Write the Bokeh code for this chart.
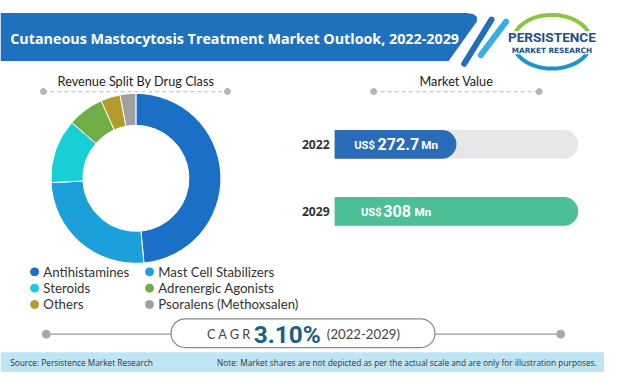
import numpy as np
from bokeh.plotting import figure
from bokeh.models import Range1d
from bokeh.core.properties import value
from bokeh.embed import file_html
from bokeh.resources import INLINE

# ---------------- data ----------------
title = "Cutaneous Mastocytosis Treatment Market Outlook, 2022-2029"
donut_title = "Revenue Split By Drug Class"
bars_title = "Market Value"
drug_classes = ["Antihistamines", "Mast Cell Stabilizers", "Steroids",
                "Adrenergic Agonists", "Others", "Psoralens (Methoxsalen)"]
shares = [48.5, 25.7, 12.2, 6.9, 3.7, 3.0]
class_colors = ["#1b6fc6", "#1ba0dc", "#18cfd7", "#6fae44", "#b39b2b", "#a0a0a0"]
years = ["2022", "2029"]
market_values = [272.7, 308.0]
value_labels = ["272.7", "308"]
bar_colors = ["#2a6cb8", "#4bbf95"]
cagr_label = "C A G R"
cagr_value = "3.10%"
cagr_period = "(2022-2029)"
source_text = "Source: Persistence Market Research"
note_text = "Note: Market shares are not depicted as per the actual scale and are only for illustration purposes."

# ---------------- layout ----------------
W, H = 604, 372
RW, RH = 620, 388
S = W / RW


def fs(px):
    return value(f"{px * S:.1f}px")


p = figure(width=W, height=H, x_range=Range1d(0, RW), y_range=Range1d(RH, 0),
           output_backend="svg", toolbar_location=None, min_border=0,
           x_axis_type=None, y_axis_type=None)
p.grid.visible = False
p.outline_line_color = None
p.background_fill_color = "white"
p.border_fill_color = "white"


def txt(x, y, t, size, color="#222222", bold=False, align="left",
        baseline="middle", font="Lato"):
    p.text(x=[x], y=[y], text=[t], text_font=value(font), text_font_size=fs(size),
           text_color=color, text_font_style="bold" if bold else "normal",
           text_align=align, text_baseline=baseline)


# title band
band_x = [0, 478, 485, 489, 489, 460, 0]
band_y = [13, 13, 14, 17, 22, 63, 63]
p.patch(band_x, band_y, fill_color="#1f70bd", line_color=None)
txt(10, 40, title, 14.7, color="white", bold=True, font="Open Sans")
# slashes
p.line([504, 476], [20, 66], line_color="#1f6fbf", line_width=6, line_cap="round")
p.line([519, 493], [22, 57], line_color="#38aee3", line_width=6, line_cap="round")

# logo
t = np.linspace(np.radians(200), np.radians(-15), 60)
p.line(566 + 40 * np.cos(t), 43 - 28 * np.sin(t), line_color="#8cc63f", line_width=4)
t2 = np.linspace(np.radians(195), np.radians(345), 60)
p.line(566 + 40 * np.cos(t2), 43 - 28 * np.sin(t2), line_color="#1d93cf", line_width=4)
p.rect(x=[566], y=[44], width=94, height=24, fill_color="white", line_color=None)
txt(566, 38, "PERSISTENCE", 14, color="#1c4f8c", bold=True, align="center",
    font="Roboto")
txt(566, 52, "MARKET RESEARCH", 7.5, color="#1c4f8c", bold=True, align="center",
    font="DejaVu Sans")

# section headers
for cx, x0, x1, lbl in [(139, 44, 233, donut_title), (468, 383, 553, bars_title)]:
    txt(cx, 84, lbl, 13, color="#222222", align="center")
    p.line([x0, x1], [95, 95], line_color="#c8c8c8", line_width=1.2, line_dash="4 3")
    p.scatter([x0, x1], [95, 95], size=6, color="#b5b5b5")

# donut
cum = np.cumsum([0] + shares)
tot = cum[-1]
starts = np.pi / 2 - 2 * np.pi * cum[:-1] / tot
ends = np.pi / 2 - 2 * np.pi * cum[1:] / tot
p.annular_wedge(x=139, y=185.5, inner_radius=53, outer_radius=85,
                inner_radius_units="screen", outer_radius_units="screen",
                start_angle=starts, end_angle=ends, direction="clock",
                fill_color=class_colors, line_color="white", line_width=1)

# legend
for i, (name, col) in enumerate(zip(drug_classes, class_colors)):
    r, c = divmod(i, 2)
    ly = 283 + 17 * r
    dx = [35, 153][c]
    p.scatter([dx], [ly], size=8, color=col)
    txt(dx + 9, ly, name, 13.5, color="#333333")

# market value bars
BAR_X0, BAR_X1 = 343, 593
VALUE_START = 237.4
vmax = max(market_values)
span = (vmax - VALUE_START) / (BAR_X1 - BAR_X0)
p.extra_x_ranges = {"mv": Range1d(VALUE_START - BAR_X0 * span,
                                  VALUE_START + (RW - BAR_X0) * span)}
bar_y = [150, 220]
p.hbar(y=bar_y, left=VALUE_START, right=vmax, height=30, fill_color="#e6e7e9",
       line_color=None, x_range_name="mv", border_radius=(0, 15, 15, 0))
p.hbar(y=bar_y, left=VALUE_START, right=market_values, height=30,
       fill_color=bar_colors, line_color=None, x_range_name="mv",
       border_radius=(0, 15, 15, 0))
for yy, yr in zip(bar_y, years):
    txt(338, yy, yr, 12.5, color="#333333", bold=True, align="right", font="Open Sans")
bar_text_x = [(363, 387, 432), (370, 393, 425)]
for (ux, nx, mx), yy, lab in zip(bar_text_x, bar_y, value_labels):
    txt(ux, yy + 1, "US$", 11.5, color="white", bold=True, font="Roboto")
    txt(nx, yy, lab, 16.5, color="white", bold=True, font="Roboto")
    txt(mx, yy + 1, "Mn", 12, color="white", bold=True, font="Roboto")

# CAGR
p.line([47, 175], [348, 348], line_color="#9a9a9a", line_width=1.2)
p.line([446, 575], [348, 348], line_color="#9a9a9a", line_width=1.2)
p.scatter([47, 575], [348, 348], size=8, color="#a8a8a8")
p.rect(x=[310.5], y=[347], width=271, height=30, fill_color="white",
       line_color="#8a8a8a", line_width=1.2, border_radius=15)
txt(212, 348, cagr_label, 13, color="#444444", font="Lato")
txt(260, 348, cagr_value, 25, color="#1c5f88", bold=True, font="Roboto")
txt(335, 348, cagr_period, 13.5, color="#444444", font="Lato")

# footer
p.quad(left=[0], right=[RW], top=[367], bottom=[RH], fill_color="#bee5f3", line_color=None)
txt(10, 378, source_text, 8.5, color="#333333", font="Open Sans")
txt(612, 378, note_text, 8.5, color="#333333", align="right", font="Open Sans")

open("out.html", "w").write(file_html(p, INLINE))
